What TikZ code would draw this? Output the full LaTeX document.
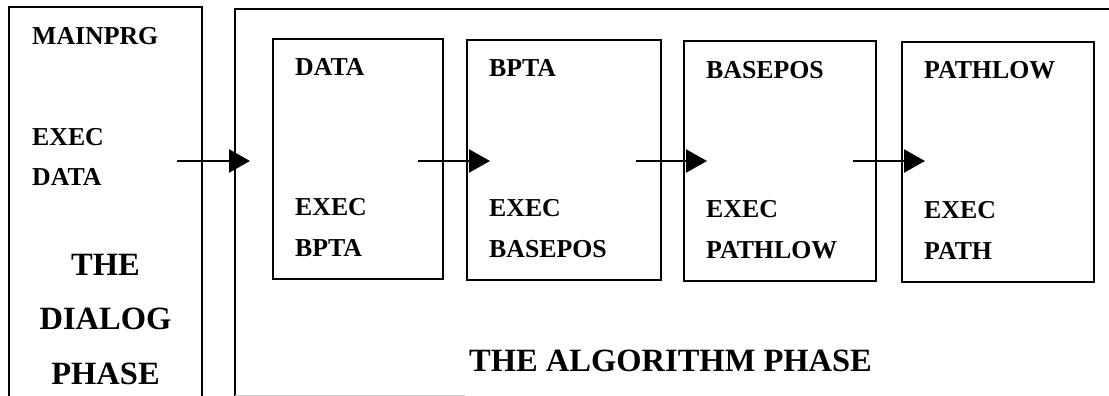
\documentclass[tikz,border=0pt]{standalone}
\usepackage{fontspec}
\setmainfont{Liberation Serif}
\usetikzlibrary{arrows.meta,calc}
\begin{document}
\begin{tikzpicture}[x=1pt,y=-1pt,
  frame/.style={draw=black,line width=1.3pt},
  stage/.style={frame,rectangle,inner sep=0pt,outer sep=0pt,anchor=north west,
    minimum height=240pt},
  lbl/.style={font=\fontsize{25.8}{31}\selectfont\bfseries,anchor=base west,inner sep=0pt},
  big/.style={font=\fontsize{32.5}{39}\selectfont\bfseries,anchor=base,inner sep=0pt},
  flow/.style={line width=2.5pt,-{Triangle[length=21pt,width=23pt]}}]
\useasboundingbox (0,0) rectangle (1109,396);

% dialog phase column (runs off the bottom edge)
\draw[frame] (9,396) -- (9,7) -- (202,7) -- (202,396);
\coordinate (dlgmid) at (105.5,0);
\node[lbl] (mainprg) at (32,45) {MAINPRG};
\node[lbl] (dexec)   at (32,145) {EXEC};
\node[lbl] (ddata)   at (32,185) {DATA};
\node[big] (the)    at (dlgmid |- 0,275) {THE};
\node[big] (dialog) at (dlgmid |- 0,329) {DIALOG};
\node[big] (phase)  at (dlgmid |- 0,384) {PHASE};

% algorithm phase frame (open to the right)
\draw[frame] (1109,9) -- (235,9) -- (235,396);
\draw[gray!45,line width=0.8pt] (235,395) -- (465,395);
\coordinate (alg) at (235,161);
\node[big,anchor=base west] (algtitle) at (469,371) {THE ALGORITHM PHASE};

% the four routine boxes
\node[stage,minimum width=170pt] (b1) at (273,39) {};
\node[stage,minimum width=194pt] (b2) at (467,40) {};
\node[stage,minimum width=192pt] (b3) at (684,41) {};
\node[stage,minimum width=192pt] (b4) at (902,42) {};

\foreach \b/\name/\callee in {b1/DATA/BPTA, b2/BPTA/BASEPOS, b3/BASEPOS/PATHLOW, b4/PATHLOW/PATH}{
  \node[lbl] (\b-name) at ($(\b.north west)+(22,37)$) {\name};
  \node[lbl] (\b-exec) at ($(\b.north west)+(22,176)$) {EXEC};
  \node[lbl] (\b-call) at ($(\b.north west)+(22,217)$) {\callee};
}

% calls between the stages
\coordinate (t1) at (177,161);
\coordinate (t2) at (418,161);
\coordinate (t3) at (636,161);
\coordinate (t4) at (853,161);
\draw[flow,line width=2.8pt] (t1) -- ([xshift=15pt]alg);
\draw[flow] (t2) -- ([xshift=23pt]t2 -| b2.west);
\draw[flow] (t3) -- ([xshift=23pt]t3 -| b3.west);
\draw[flow] (t4) -- ([xshift=23pt]t4 -| b4.west);
\end{tikzpicture}
\end{document}
